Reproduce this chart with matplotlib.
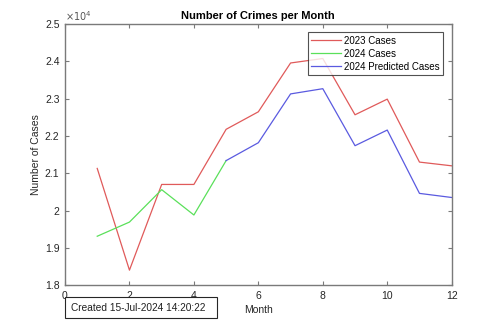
import matplotlib
matplotlib.use("Agg")
import matplotlib.pyplot as plt
from matplotlib.ticker import FuncFormatter, MultipleLocator
from matplotlib.patches import Rectangle

plt.rcParams['font.family'] = ['Liberation Sans', 'DejaVu Sans']

months_2023 = [1, 2, 3, 4, 5, 6, 7, 8, 9, 10, 11, 12]
cases_2023 = [21130, 18400, 20700, 20700, 22180, 22650, 23960, 24080, 22570, 22990, 21300, 21200]
months_2024 = [1, 2, 3, 4, 5]
cases_2024 = [19310, 19690, 20560, 19880, 21340]
months_pred = [5, 6, 7, 8, 9, 10, 11, 12]
cases_pred = [21340, 21820, 23130, 23270, 21740, 22160, 20460, 20350]

labels = ['2023 Cases', '2024 Cases', '2024 Predicted Cases']
colors = ['#e05a5a', '#5ae05a', '#5a5ae0']

fig = plt.figure(figsize=(5.0, 3.21), dpi=100)
ax = fig.add_axes([0.13, 0.112, 0.7734, 0.8125])

ax.plot(months_2023, cases_2023, color=colors[0], lw=0.9, label=labels[0])
ax.plot(months_2024, cases_2024, color=colors[1], lw=0.9, label=labels[1])
ax.plot(months_pred, cases_pred, color=colors[2], lw=0.9, label=labels[2])

ax.set_xlim(0, 12)
ax.set_ylim(18000, 25000)
ax.xaxis.set_major_locator(MultipleLocator(2))
ax.yaxis.set_major_locator(MultipleLocator(1000))
ax.yaxis.set_major_formatter(FuncFormatter(lambda v, p: '%g' % round(v / 1e4, 2)))

for s in ax.spines.values():
    s.set_color('#7a7a7a')
    s.set_linewidth(1.0)
ax.tick_params(direction='in', top=True, right=True, length=3, width=0.8,
               colors='#7a7a7a', labelcolor='#262626', labelsize=7.5, pad=4)

ax.text(0.0, 1.005, r'$\times10^{4}$', transform=ax.transAxes, fontsize=7,
        color='#555555', ha='left', va='bottom')

ax.set_title('Number of Crimes per Month', fontsize=8, fontweight='bold', pad=3.5)
ax.set_xlabel('Month', fontsize=7.5, color='#262626', labelpad=3.5)
ax.set_ylabel('Number of Cases', fontsize=7.5, color='#262626', labelpad=3)

leg = ax.legend(loc='upper right', fontsize=7, frameon=True, fancybox=False,
                handlelength=3.1, handletextpad=0.3, borderpad=0.35,
                labelspacing=0.3, borderaxespad=0.85)
leg.get_frame().set_edgecolor('#262626')
leg.get_frame().set_linewidth(0.8)

fig.patches.append(Rectangle((0.13, 0.0084), 0.3046, 0.0673, transform=fig.transFigure,
                             fc='white', ec='#262626', lw=0.8))
fig.text(0.1414, 0.042, 'Created 15-Jul-2024 14:20:22', fontsize=7.3,
         ha='left', va='center', color='#202020')

fig.savefig('out.png', dpi=100)
